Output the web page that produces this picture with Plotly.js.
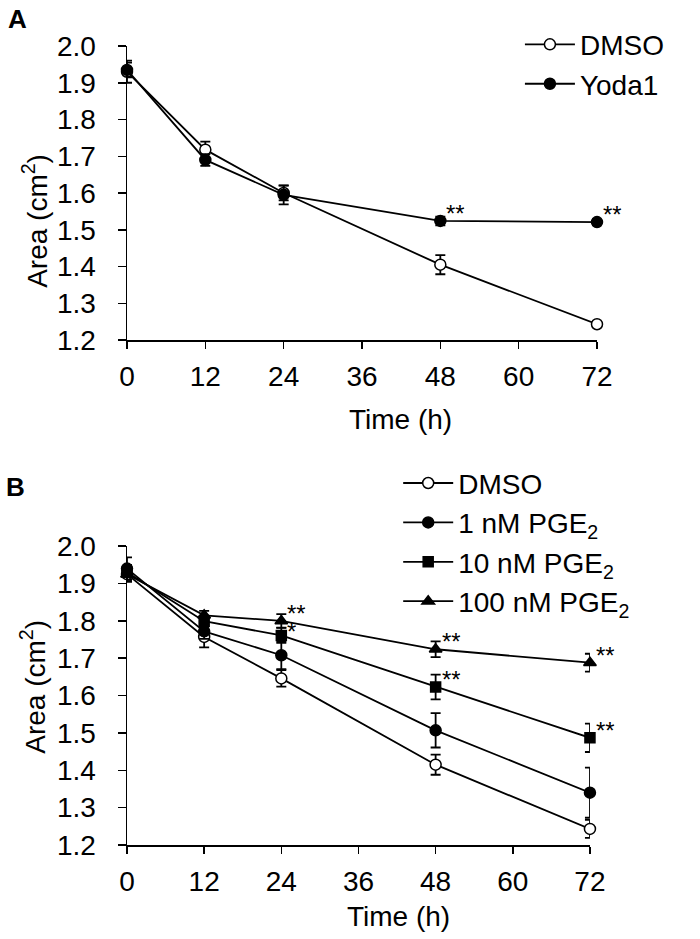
<!DOCTYPE html>
<html>
<head>
<meta charset="utf-8">
<script src="https://cdn.plot.ly/plotly-3.0.1.min.js"></script>
<style>html,body{margin:0;padding:0;background:#fff}</style>
</head>
<body>
<div id="chart" style="width:700px;height:939px"></div>
<script>
// ---- Data ----
const time = [0, 12, 24, 48, 72];
const timeTicks = [0, 12, 24, 36, 48, 60, 72];
const areaTicks = [1.2, 1.3, 1.4, 1.5, 1.6, 1.7, 1.8, 1.9, 2.0];

// Panel A
const dmsoA = [1.930, 1.718, 1.600, 1.405, 1.243];
const dmsoAErr = [0.030, 0.022, 0.020, 0.026, 0.008];
const yodaA = [1.935, 1.690, 1.595, 1.524, 1.521];
const yodaAErr = [0.020, 0.016, 0.026, 0.012, 0.008];
const starsAx = [48, 72];
const starsAy = [1.524, 1.521];
const starsAtext = ['**', '**'];

// Panel B
const dmsoB = [1.925, 1.757, 1.646, 1.415, 1.243];
const dmsoBErr = [0.020, 0.028, 0.022, 0.027, 0.024];
const pge1 = [1.940, 1.772, 1.708, 1.507, 1.340];
const pge1Err = [0.030, 0.020, 0.037, 0.046, 0.067];
const pge10 = [1.930, 1.799, 1.761, 1.623, 1.487];
const pge10Err = [0.020, 0.015, 0.020, 0.033, 0.038];
const pge100 = [1.925, 1.815, 1.800, 1.724, 1.688];
const pge100Err = [0.020, 0.012, 0.018, 0.021, 0.024];
const starsBx = [24, 24, 48, 48, 72, 72];
const starsBy = [1.800, 1.761, 1.724, 1.623, 1.688, 1.487];
const starsBtext = ['**', '*', '**', '**', '**', '**'];

const namesA = ['DMSO', 'Yoda1'];
const namesB = ['DMSO', '1 nM PGE<sub>2</sub>', '10 nM PGE<sub>2</sub>', '100 nM PGE<sub>2</sub>'];

// ---- Styling ----
const FONT = 'Liberation Sans, Arial, sans-serif';
const FS = 28;
const BLK = '#000';
function trace(y, err, name, symbol, filled, xa, ya, leg) {
  return {
    x: time, y: y, name: name, type: 'scatter', mode: 'lines+markers',
    xaxis: xa, yaxis: ya, legend: leg, cliponaxis: false,
    line: {color: BLK, width: 1.8},
    marker: {symbol: symbol, size: symbol === 'square' ? 10 : 11,
             color: filled ? BLK : '#fff', line: {color: BLK, width: 1.5}},
    error_y: {type: 'data', array: err, visible: true, color: BLK, thickness: 1.8, width: 5}
  };
}

const data = [
  trace(dmsoA, dmsoAErr, namesA[0], 'circle', false, 'x', 'y', 'legend'),
  trace(yodaA, yodaAErr, namesA[1], 'circle', true, 'x', 'y', 'legend'),
  trace(dmsoB, dmsoBErr, namesB[0], 'circle', false, 'x2', 'y2', 'legend2'),
  trace(pge1, pge1Err, namesB[1], 'circle', true, 'x2', 'y2', 'legend2'),
  trace(pge10, pge10Err, namesB[2], 'square', true, 'x2', 'y2', 'legend2'),
  trace(pge100, pge100Err, namesB[3], 'triangle-up', true, 'x2', 'y2', 'legend2')
];

function xax(domain, anchor) {
  return {
    domain: domain, anchor: anchor, range: [0, 72], tickvals: timeTicks,
    showline: true, linecolor: BLK, linewidth: 1.5, ticks: 'outside', ticklen: 7,
    tickwidth: 1.5, tickcolor: BLK, showgrid: false, zeroline: false,
    tickfont: {family: FONT, size: FS, color: BLK}, ticklabelstandoff: 4
  };
}
function yax(domain, anchor) {
  return {
    domain: domain, anchor: anchor, range: [1.2, 2.0], tickvals: areaTicks,
    tickformat: '.1f',
    showline: true, linecolor: BLK, linewidth: 1.5, ticks: 'outside', ticklen: 8,
    tickwidth: 1.5, tickcolor: BLK, showgrid: false, zeroline: false,
    tickfont: {family: FONT, size: FS, color: BLK}, ticklabelstandoff: 16
  };
}

const annotations = [];
function stars(xs, ys, txt, xr, yr) {
  xs.forEach((x, i) => annotations.push({
    x: x, y: ys[i], xref: xr, yref: yr, text: txt[i], showarrow: false,
    xanchor: 'left', yanchor: 'middle', xshift: 4, yshift: txt[i] === '*' ? 4 : 8,
    height: 16,
    font: {family: FONT, size: 24, color: BLK}
  }));
}
stars(starsAx, starsAy, starsAtext, 'x', 'y');
stars(starsBx, starsBy, starsBtext, 'x2', 'y2');

function txt(text, x, y, opts) {
  annotations.push(Object.assign({
    text: text, x: x, y: y, xref: 'paper', yref: 'paper', showarrow: false,
    xanchor: 'center', yanchor: 'middle', font: {family: FONT, size: FS, color: BLK}
  }, opts || {}));
}
txt('Time (h)', 0.581, 0.532);
txt('Time (h)', 0.577, -0.089);
txt('Area (cm<sup>2</sup>)', -0.196, 0.781, {textangle: -90});
txt('Area (cm<sup>2</sup>)', -0.200, 0.198, {textangle: -90});
txt('<b>A</b>', -0.234, 1.034, {font: {family: FONT, size: 26, color: BLK}});
txt('<b>B</b>', -0.238, 0.448, {font: {family: FONT, size: 26, color: BLK}});

const layout = {
  width: 700, height: 939,
  margin: {l: 127, r: 103, t: 46, b: 94},
  paper_bgcolor: '#fff', plot_bgcolor: '#fff',
  font: {family: FONT, color: BLK},
  xaxis: xax([0, 1], 'y'),
  yaxis: yax([0.632, 1], 'x'),
  xaxis2: xax([0, 0.985], 'y2'),
  yaxis2: yax([0, 0.374], 'x2'),
  legend: {x: 0.836, y: 1.033, xanchor: 'left', yanchor: 'top', bgcolor: 'rgba(0,0,0,0)',
           font: {family: FONT, size: FS, color: BLK}, tracegroupgap: 0, itemwidth: 50},
  legend2: {x: 0.577, y: 0.484, xanchor: 'left', yanchor: 'top', bgcolor: 'rgba(0,0,0,0)',
            font: {family: FONT, size: FS, color: BLK}, tracegroupgap: 0, itemwidth: 50},
  showlegend: true,
  annotations: annotations
};

Plotly.newPlot('chart', data, layout, {displayModeBar: false, staticPlot: true});
</script>
</body>
</html>
